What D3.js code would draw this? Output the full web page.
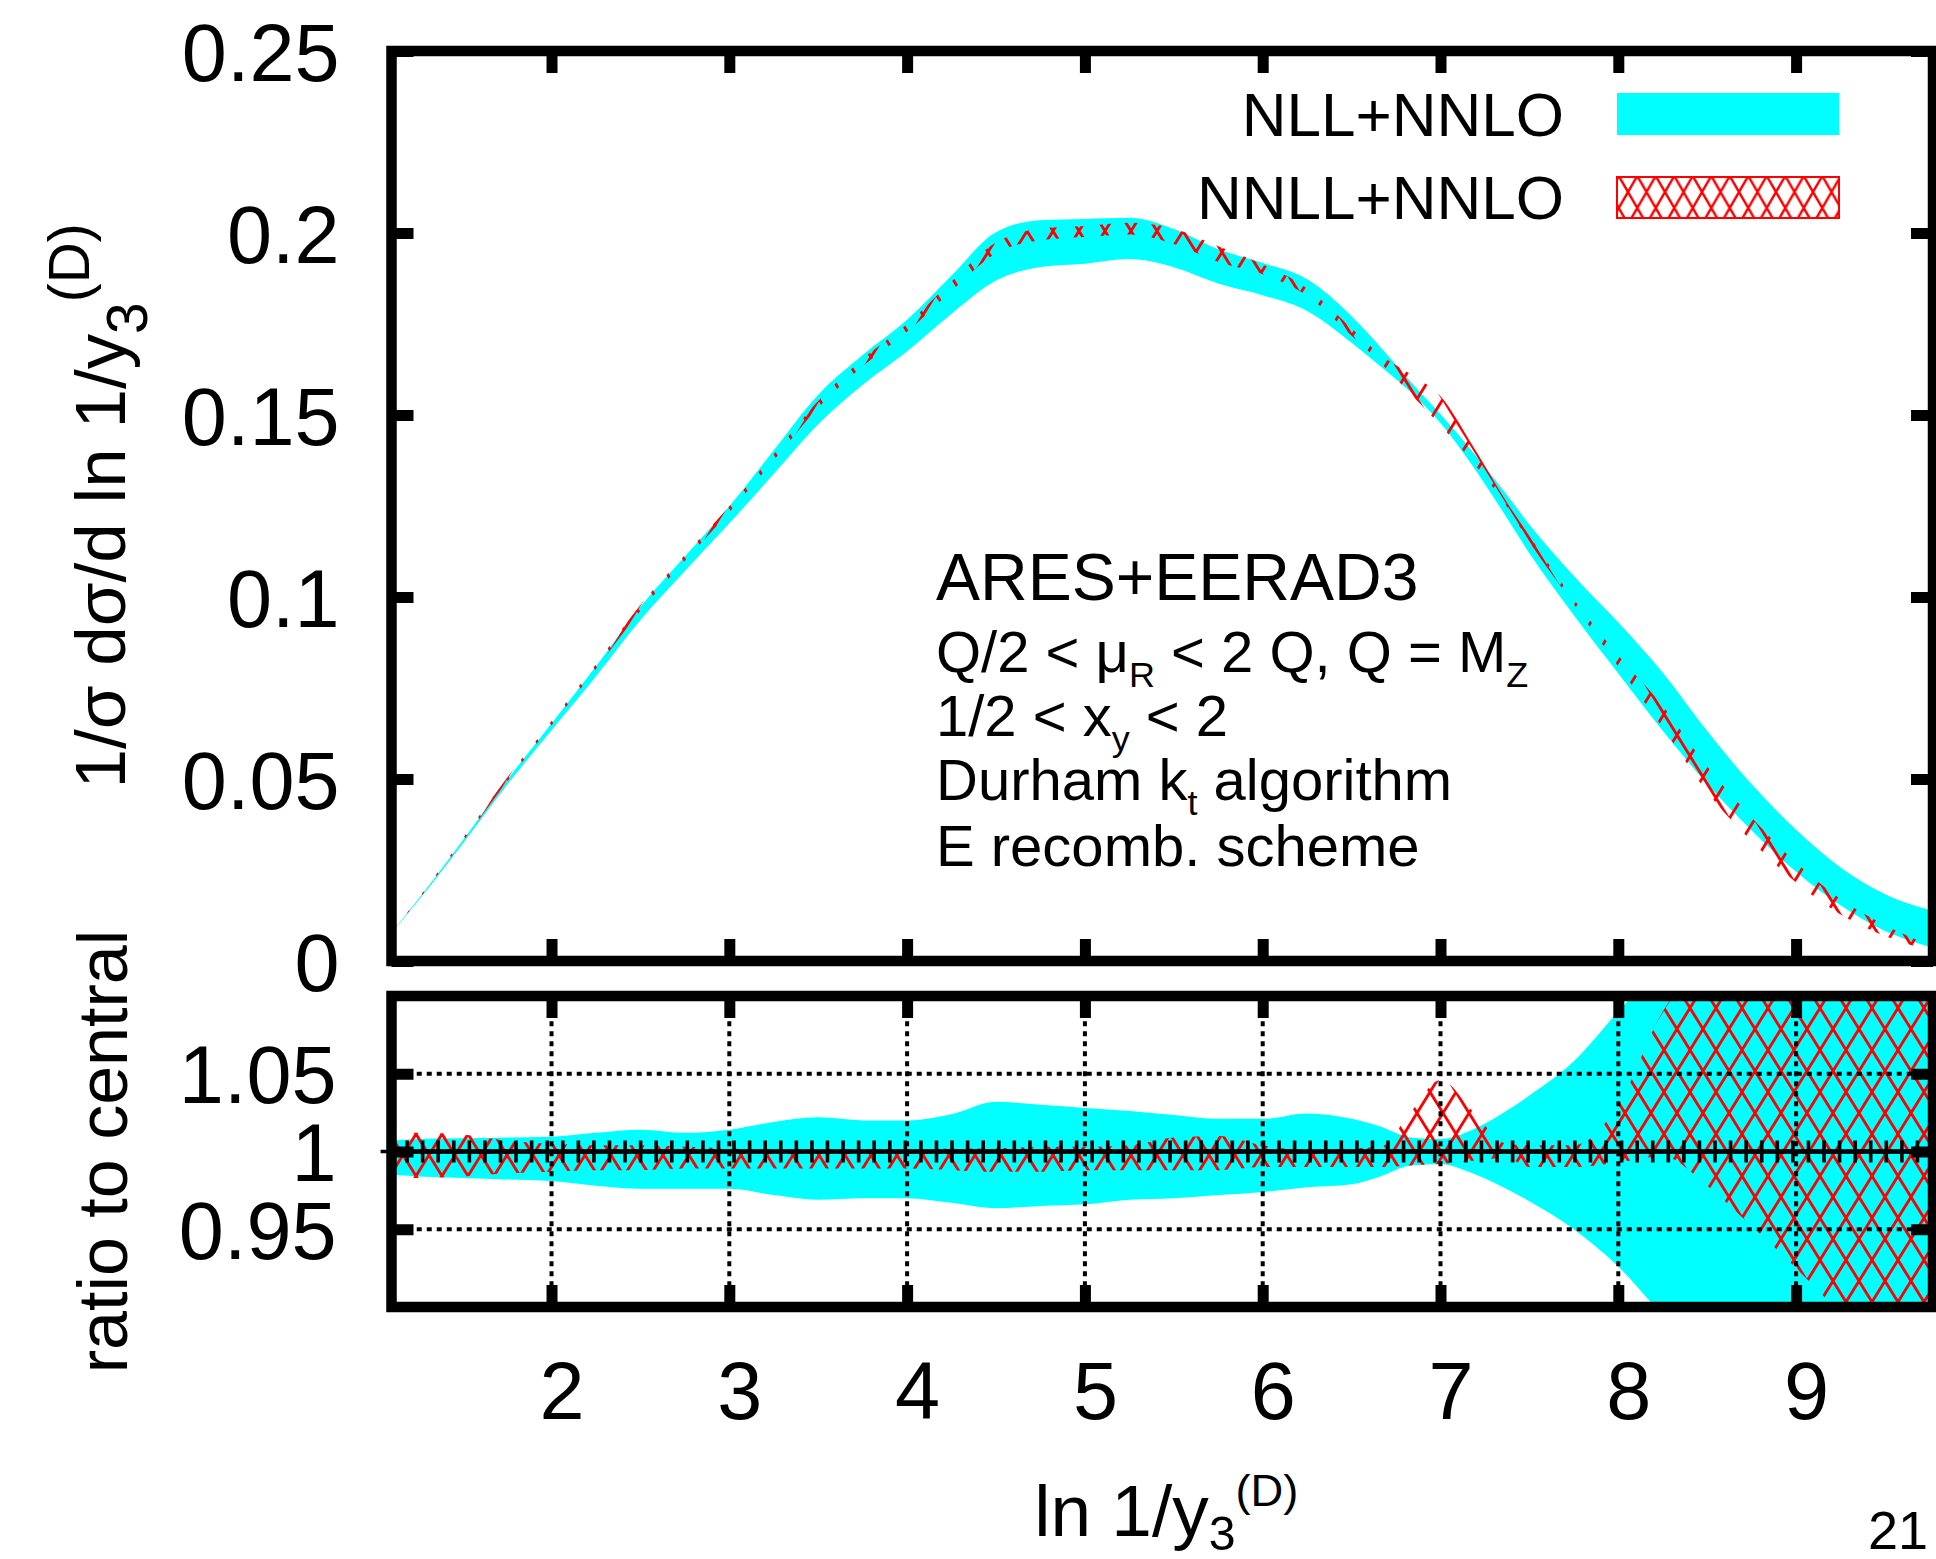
<!DOCTYPE html>
<html>
<head>
<meta charset="utf-8">
<title>Durham y3 distribution: NLL+NNLO vs NNLL+NNLO</title>
<script src="https://cdn.jsdelivr.net/npm/d3@7"></script>
<style>
  html, body { margin: 0; padding: 0; background: #ffffff; }
  svg { display: block; }
  text { font-family: "Liberation Sans", Arial, Helvetica, sans-serif; fill: #000; white-space: pre; }
</style>
</head>
<body>
<svg id="chart" width="1936" height="1559"></svg>
<script>
// ---- data -------------------------------------------------------------
// sampling points in ln 1/y3^(D)
const lnInvY3 = [1.1, 1.25, 1.5, 1.75, 2.0, 2.25, 2.5, 2.75, 3.0, 3.25, 3.5, 3.75,
  4.0, 4.25, 4.5, 4.75, 5.0, 5.25, 5.5, 5.75, 6.0, 6.25, 6.5, 6.66, 6.83, 7.0,
  7.18, 7.37, 7.5, 7.75, 8.0, 8.25, 8.5, 8.75, 9.0, 9.25, 9.5, 9.77];

// NLL+NNLO: central value of 1/sigma dsigma/d ln 1/y3 and scale band (ratio to central)
const nllCentral = [0.0078, 0.0168, 0.0328, 0.0493, 0.0646, 0.0800, 0.0960, 0.1098, 0.1232,
  0.1377, 0.1522, 0.1632, 0.1727, 0.1839, 0.1940, 0.1976, 0.1983, 0.1990, 0.1965, 0.1915,
  0.1878, 0.1828, 0.1735, 0.1661, 0.1578, 0.1490, 0.1380, 0.1250, 0.1157, 0.1000, 0.0853,
  0.0707, 0.0559, 0.0422, 0.0303, 0.0204, 0.0133, 0.0087];
const nllLo = [0.985, 0.984, 0.983, 0.982, 0.981, 0.978, 0.976, 0.976, 0.976, 0.972, 0.969,
  0.970, 0.970, 0.967, 0.9635, 0.965, 0.966, 0.969, 0.970, 0.972, 0.974, 0.977, 0.979, 0.984,
  0.991, 0.992, 0.986, 0.976, 0.968, 0.950, 0.926, 0.895, 0.870, 0.850, 0.810, 0.750, 0.620, 0.420];
const nllHi = [1.007, 1.008, 1.0085, 1.009, 1.0095, 1.012, 1.014, 1.012, 1.014, 1.019, 1.022,
  1.020, 1.020, 1.024, 1.032, 1.030, 1.028, 1.026, 1.0235, 1.021, 1.021, 1.0245, 1.021, 1.016,
  1.009, 1.008, 1.014, 1.026, 1.036, 1.058, 1.090, 1.120, 1.130, 1.150, 1.190, 1.260, 1.380, 1.580];

// NNLL+NNLO: central value and scale band (ratio to central)
const nnllCentral = [0.0078, 0.0170, 0.0333, 0.0500, 0.0656, 0.0812, 0.0974, 0.1112, 0.1247,
  0.1391, 0.1537, 0.1652, 0.1748, 0.1863, 0.1970, 0.2006, 0.2013, 0.2020, 0.1994, 0.1944,
  0.1906, 0.1846, 0.1735, 0.1661, 0.1573, 0.1483, 0.1380, 0.1256, 0.1163, 0.0990, 0.0815,
  0.0643, 0.0475, 0.0346, 0.0233, 0.0143, 0.0080, 0.0032];
const nnllLo = [0.983, 0.983, 0.984, 0.986, 0.987, 0.988, 0.988, 0.989, 0.989, 0.989, 0.989,
  0.989, 0.989, 0.988, 0.987, 0.987, 0.988, 0.988, 0.988, 0.988, 0.990, 0.990, 0.990, 0.990,
  0.991, 0.992, 0.994, 0.996, 0.990, 0.990, 0.993, 0.997, 0.978, 0.952, 0.925, 0.895, 0.860, 0.830];
const nnllHi = [1.012, 1.012, 1.011, 1.007, 1.005, 1.004, 1.004, 1.003, 1.002, 1.001, 1.001,
  1.001, 1.001, 1.002, 1.002, 1.003, 1.003, 1.004, 1.009, 1.010, 1.004, 1.001, 1.002, 1.003,
  1.025, 1.046, 1.026, 1.005, 1.004, 1.004, 1.030, 1.090, 1.125, 1.140, 1.160, 1.190, 1.230, 1.280];

// the histogram bins of the central prediction (100 equal bins over the plotted range)
const binCount = 100;
const centralErr = 0.007;   // half-height of the point markers on the ratio line

// axes
const xTicks = [2, 3, 4, 5, 6, 7, 8, 9];
const yTicksMain = [0, 0.05, 0.1, 0.15, 0.2, 0.25];
const yTicksRatio = [0.95, 1, 1.05];
const yTickLabelsMain = ["0", "0.05", "0.1", "0.15", "0.2", "0.25"];
const yTickLabelsRatio = ["0.95", "1", "1.05"];

// legend and annotation
const legendLabels = ["NLL+NNLO", "NNLL+NNLO"];
const infoTitle = "ARES+EERAD3";
const infoLines = [
  [["Q/2 < \u03bc", ""], ["R", "sub"], [" < 2 Q, Q = M", ""], ["Z", "sub"]],
  [["1/2 < x", ""], ["y", "sub"], [" < 2", ""]],
  [["Durham k", ""], ["t", "sub"], [" algorithm", ""]],
  [["E recomb. scheme", ""]]
];
const pageNumber = "21";

// ---- layout -----------------------------------------------------------
const W = 1936, H = 1559;
const left = 391.5, right = 1933;
const mainTop = 51, mainBottom = 961;
const ratTop = 996, ratBottom = 1307;
const frameW = 10.5, tickLen = 22, tickW = 11;
const CYAN = "#00ffff", RED = "#ff0000";

const svg = d3.select("#chart");
svg.append("rect").attr("width", W).attr("height", H).attr("fill", "#fff");

const x = d3.scaleLinear().domain([1.1, 9.77]).range([left, right]);
const yMain = d3.scaleLinear().domain([0, 0.25]).range([mainBottom, mainTop]);
const yRat = d3.scaleLinear().domain([0.9, 1.1]).range([ratBottom, ratTop]);

// ---- defs: clipping and cross-hatch --------------------------------------
const defs = svg.append("defs");
defs.append("clipPath").attr("id", "clipMain").append("rect")
  .attr("x", left).attr("y", mainTop).attr("width", right - left).attr("height", mainBottom - mainTop);
defs.append("clipPath").attr("id", "clipRat").append("rect")
  .attr("x", left).attr("y", ratTop).attr("width", right - left).attr("height", ratBottom - ratTop);

function crossHatch(id, hw, hh, sw) {
  const p = defs.append("pattern").attr("id", id)
    .attr("patternUnits", "userSpaceOnUse").attr("width", hw).attr("height", hh);
  let d = "";
  for (let k = -2; k <= 3; k++) {
    d += `M${k * hw - hw},${-hh}L${k * hw + 2 * hw},${2 * hh}`;
    d += `M${k * hw + hw},${-hh}L${k * hw - 2 * hw},${2 * hh}`;
  }
  p.append("path").attr("d", d).attr("fill", "none")
    .attr("stroke", RED).attr("stroke-width", sw);
}
crossHatch("xhatch", 26, 42, 2.8);       // bands in the plot
crossHatch("xhatchKey", 18.5, 32, 2.4);  // legend sample

// ---- rows --------------------------------------------------------------
const rows = lnInvY3.map((v, i) => ({
  x: v,
  nllC: nllCentral[i], nllLo: nllLo[i], nllHi: nllHi[i],
  nnllC: nnllCentral[i], nnllLo: nnllLo[i], nnllHi: nnllHi[i]
}));

const curve = d3.curveMonotoneX;

// ---- main panel ------------------------------------------------------------
const gMain = svg.append("g").attr("clip-path", "url(#clipMain)");
gMain.append("path").datum(rows)
  .attr("fill", CYAN)
  .attr("d", d3.area().curve(curve)
    .x(d => x(d.x)).y0(d => yMain(d.nllC * d.nllLo)).y1(d => yMain(d.nllC * d.nllHi)));
gMain.append("path").datum(rows)
  .attr("fill", "url(#xhatch)")
  .attr("d", d3.area().curve(curve)
    .x(d => x(d.x)).y0(d => yMain(d.nnllC * d.nnllLo)).y1(d => yMain(d.nnllC * d.nnllHi)));

// ---- ratio panel --------------------------------------------------------------
const gRat = svg.append("g").attr("clip-path", "url(#clipRat)");
gRat.append("path").datum(rows)
  .attr("fill", CYAN)
  .attr("d", d3.area().curve(curve)
    .x(d => x(d.x)).y0(d => yRat(d.nllLo)).y1(d => yRat(d.nllHi)));
gRat.append("path").datum(rows)
  .attr("fill", "url(#xhatch)")
  .attr("d", d3.area().curve(curve)
    .x(d => x(d.x)).y0(d => yRat(d.nnllLo)).y1(d => yRat(d.nnllHi)));

// dotted grid (drawn in front of the bands)
const gGrid = svg.append("g").attr("stroke", "#000").attr("stroke-width", 4)
  .attr("stroke-dasharray", "5,5").attr("fill", "none");
gGrid.selectAll("line.gx").data(xTicks).join("line").attr("class", "gx")
  .attr("x1", d => x(d)).attr("x2", d => x(d))
  .attr("y1", ratTop + frameW / 2).attr("y2", ratBottom - frameW / 2);
gGrid.selectAll("line.gy").data(yTicksRatio).join("line").attr("class", "gy")
  .attr("x1", left + frameW / 2).attr("x2", right - frameW / 2)
  .attr("y1", d => yRat(d)).attr("y2", d => yRat(d));

// central line with point markers
const binEdges = d3.range(binCount).map(i => 1.1 + i * (9.77 - 1.1) / (binCount - 1));
svg.append("line")
  .attr("x1", x(1.1)).attr("x2", right).attr("y1", yRat(1)).attr("y2", yRat(1))
  .attr("stroke", "#000").attr("stroke-width", 4.5);
const markerArm = yRat(1 - centralErr) - yRat(1);
svg.append("g").selectAll("path").data(binEdges).join("path")
  .attr("d", d => `M${x(d)},${yRat(1 - centralErr)}V${yRat(1 + centralErr)}M${x(d) - markerArm},${yRat(1)}H${x(d) + markerArm}`)
  .attr("stroke", "#000").attr("stroke-width", 3.6).attr("fill", "none");

// ---- frames and axes ------------------------------------------------------
function styleAxis(g) {
  g.select(".domain").remove();
  g.selectAll(".tick line").attr("stroke", "#000").attr("stroke-width", tickW);
  g.selectAll(".tick text").attr("fill", "#000");
}
const tickFont = 81;

// main panel
svg.append("g").attr("transform", `translate(${left},0)`)
  .call(d3.axisLeft(yMain).tickValues(yTicksMain).tickSize(-tickLen).tickPadding(52)
    .tickFormat((d, i) => yTickLabelsMain[i]))
  .call(styleAxis)
  .call(g => g.selectAll("text").attr("font-size", tickFont).attr("dy", "0.36em")
    .style("font-family", '"Liberation Sans", Arial, sans-serif'));
svg.append("g").attr("transform", `translate(${right},0)`)
  .call(d3.axisRight(yMain).tickValues(yTicksMain).tickSize(-tickLen).tickFormat(""))
  .call(styleAxis);
svg.append("g").attr("transform", `translate(0,${mainBottom})`)
  .call(d3.axisBottom(x).tickValues(xTicks).tickSize(-tickLen).tickFormat(""))
  .call(styleAxis);
svg.append("g").attr("transform", `translate(0,${mainTop})`)
  .call(d3.axisTop(x).tickValues(xTicks).tickSize(-tickLen).tickFormat(""))
  .call(styleAxis);

// ratio panel
svg.append("g").attr("transform", `translate(${left},0)`)
  .call(d3.axisLeft(yRat).tickValues(yTicksRatio).tickSize(-tickLen).tickPadding(55)
    .tickFormat((d, i) => yTickLabelsRatio[i]))
  .call(styleAxis)
  .call(g => g.selectAll("text").attr("font-size", tickFont).attr("dy", "0.36em")
    .style("font-family", '"Liberation Sans", Arial, sans-serif'));
svg.append("g").attr("transform", `translate(${right},0)`)
  .call(d3.axisRight(yRat).tickValues(yTicksRatio).tickSize(-tickLen).tickFormat(""))
  .call(styleAxis);
svg.append("g").attr("transform", `translate(0,${ratBottom})`)
  .call(d3.axisBottom(x).tickValues(xTicks).tickSize(-tickLen).tickPadding(54))
  .call(styleAxis)
  .call(g => g.selectAll("text").attr("font-size", tickFont).attr("dx", 10)
    .style("font-family", '"Liberation Sans", Arial, sans-serif'));
svg.append("g").attr("transform", `translate(0,${ratTop})`)
  .call(d3.axisTop(x).tickValues(xTicks).tickSize(-tickLen).tickFormat(""))
  .call(styleAxis);

// frames
[[mainTop, mainBottom], [ratTop, ratBottom]].forEach(([t, b]) => {
  svg.append("rect").attr("x", left).attr("y", t).attr("width", right - left).attr("height", b - t)
    .attr("fill", "none").attr("stroke", "#000").attr("stroke-width", frameW);
});

// ---- text helpers ---------------------------------------------------------
function richText(parent, parts, size, cfg) {
  const t = parent.append("text").attr("font-size", size);
  let cur = 0;
  parts.forEach(([str, kind]) => {
    let target = 0, s = size;
    if (kind === "sub") { target = cfg.subShift; s = size * cfg.subScale; }
    if (kind === "sup") { target = -cfg.supShift; s = size * cfg.supScale; }
    t.append("tspan").attr("dy", target - cur).attr("font-size", s).text(str);
    cur = target;
  });
  return t;
}

// axis titles
const titleCfg = { subScale: 0.8, subShift: 22, supScale: 0.8, supShift: 36 };
const xTitleCfg = { subScale: 0.66, subShift: 14, supScale: 0.62, supShift: 30 };
richText(svg.append("g").attr("transform", `translate(125,${(mainTop + mainBottom) / 2}) rotate(-90)`),
  [["1/\u03c3 d\u03c3/d ln 1/y", ""], ["3", "sub"], ["(D)", "sup"]], 71, titleCfg)
  .attr("text-anchor", "middle");
richText(svg.append("g").attr("transform", `translate(127,${yRat(1)}) rotate(-90)`),
  [["ratio to central", ""]], 70, titleCfg)
  .attr("text-anchor", "middle");
richText(svg.append("g").attr("transform", `translate(${(left + right) / 2 + 4},1536)`),
  [["ln 1/y", ""], ["3", "sub"], ["(D)", "sup"]], 73, xTitleCfg)
  .attr("text-anchor", "middle");

// legend
const legend = svg.append("g");
legendLabels.forEach((lab, i) => {
  const cy = [114, 197][i];
  legend.append("text").attr("x", 1564).attr("y", cy).attr("dy", "0.36em")
    .attr("font-size", 62).attr("text-anchor", "end").text(lab);
});
legend.append("rect").attr("x", 1617).attr("y", 93).attr("width", 222).attr("height", 42)
  .attr("fill", CYAN);
legend.append("rect").attr("x", 1617).attr("y", 177).attr("width", 222).attr("height", 41)
  .attr("fill", "url(#xhatchKey)").attr("stroke", RED).attr("stroke-width", 2);

// annotation block
const info = svg.append("g").attr("transform", "translate(936,0)");
info.append("text").attr("x", 0).attr("y", 600).attr("font-size", 66).text(infoTitle);
const infoCfg = { subScale: 0.62, subShift: 15, supScale: 0.62, supShift: 20 };
const infoBase = [672, 736, 800, 866];
infoLines.forEach((parts, i) => {
  richText(info.append("g").attr("transform", `translate(0,${infoBase[i]})`), parts, 58, infoCfg);
});

// page number
svg.append("text").attr("x", 1928).attr("y", 1549).attr("font-size", 54)
  .attr("text-anchor", "end").attr("fill", "#222").style("font-weight", 300).text(pageNumber);
</script>
</body>
</html>
